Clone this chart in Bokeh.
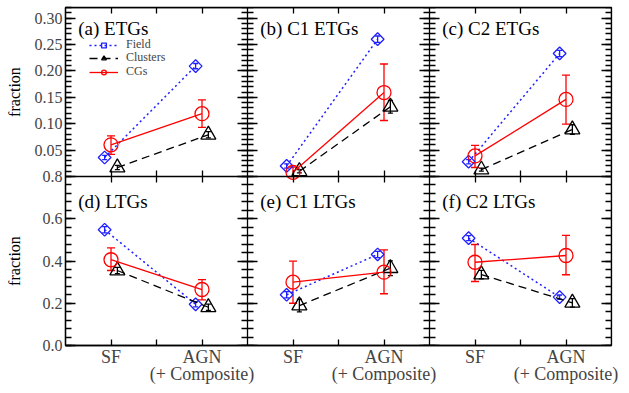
import numpy as np
from bokeh.plotting import figure
from bokeh.layouts import row
from bokeh.models import (ColumnDataSource, Whisker, TeeHead, FixedTicker, LinearAxis,
                          Range1d, Legend, LegendItem, Label, CustomJSTickFormatter)
from bokeh.core.properties import value
from bokeh.embed import file_html
from bokeh.resources import INLINE

FONT = "'Liberation Serif', 'Times New Roman', serif"

# ---------------- data ----------------
categories = ["SF", "AGN\n(+ Composite)"]
panel_titles = ["(a) ETGs", "(b) C1 ETGs", "(c) C2 ETGs",
                "(d) LTGs", "(e) C1 LTGs", "(f) C2 LTGs"]
panel_row = [0, 0, 0, 1, 1, 1]
panel_col = [0, 1, 2, 0, 1, 2]
series_names = ["Field", "Clusters", "CGs"]
y_label = "fraction"

# fractions per panel: [SF, AGN]
field_frac = [[0.036, 0.209], [0.020, 0.260], [0.028, 0.233],
              [0.548, 0.195], [0.240, 0.431], [0.508, 0.229]]
field_err = [[0.004, 0.005], [0.004, 0.006], [0.004, 0.006],
             [0.015, 0.012], [0.015, 0.015], [0.012, 0.010]]
clusters_frac = [[0.017, 0.079], [0.010, 0.132], [0.013, 0.089],
                 [0.355, 0.181], [0.189, 0.366], [0.336, 0.202]]
clusters_err = [[0.004, 0.006], [0.003, 0.012], [0.003, 0.009],
                [0.015, 0.015], [0.030, 0.035], [0.020, 0.020]]
cgs_frac = [[0.060, 0.119], [0.008, 0.159], [0.039, 0.146],
            [0.406, 0.265], [0.300, 0.347], [0.394, 0.426]]
cgs_low = [[0.042, 0.093], [0.000, 0.106], [0.017, 0.099],
           [0.355, 0.216], [0.200, 0.245], [0.303, 0.335]]
cgs_high = [[0.077, 0.145], [0.018, 0.213], [0.059, 0.192],
            [0.462, 0.312], [0.399, 0.453], [0.478, 0.521]]

top_max = 0.32
bottom_max = 0.8
top_major = [0.05, 0.10, 0.15, 0.20, 0.25, 0.30]
top_minor = [round(0.01 * i, 2) for i in range(1, 33)]
bottom_major = [0.0, 0.2, 0.4, 0.6, 0.8]
bottom_minor = [round(0.04 * i, 2) for i in range(0, 21)]

# ---------------- main figure ----------------
# bottom row uses the default y range (its data fill the lower half),
# top row uses the extra range "top" (its data fill the upper half)
shared_y = Range1d(0, 2 * bottom_max)
p = figure(width=598, height=393, x_range=Range1d(0.5, 6.5), y_range=shared_y,
           x_axis_location=None, y_axis_location=None, toolbar_location=None,
           output_backend="svg", min_border_left=31, min_border_right=18,
           min_border_top=7, min_border_bottom=48,
           outline_line_color="black", outline_line_width=1.3)
p.extra_y_ranges = {"top": Range1d(-top_max, top_max)}
p.xgrid.visible = False
p.ygrid.visible = False

row_range = ["top", "default"]
row_bounds = [(0, top_max), (0, bottom_max)]
row_major = [top_major, bottom_major]
row_minor = [top_minor, bottom_minor]
title_y = [0.280, 0.682]

scale_top = bottom_max / top_max      # top-range units -> default-range units
def top_to_default(v):
    return round(bottom_max + v * scale_top, 6)

hidden = CustomJSTickFormatter(code="return ''")

def style_axis(ax, tin, tout, min_in, min_out):
    ax.major_tick_in = tin
    ax.major_tick_out = tout
    ax.minor_tick_in = min_in
    ax.minor_tick_out = min_out
    ax.axis_line_color = "black"
    ax.axis_line_width = 1.3
    ax.major_tick_line_width = 1.3
    ax.minor_tick_line_width = 1.3
    ax.major_tick_line_color = "black"
    ax.minor_tick_line_color = "black"

# main left axis: shows both rows' scales
left_major = bottom_major + [top_to_default(v) for v in top_major]
left_minor = bottom_minor + [top_to_default(v) for v in top_minor]
left = LinearAxis(ticker=FixedTicker(ticks=left_major, minor_ticks=left_minor),
                  formatter=CustomJSTickFormatter(
                      args=dict(split=bottom_max, scale=scale_top),
                      code="""
                      if (tick > split + 1e-9) { return ((tick - split) / scale).toFixed(2); }
                      return tick.toFixed(1);
                      """))
style_axis(left, 10, 0, 6, 0)
left.major_label_text_font = FONT
left.major_label_text_font_size = "16px"
left.major_label_standoff = 3
p.add_layout(left, "left")

for r in range(2):
    rn = row_range[r]
    for loc in [2.5, 4.5]:
        sep = LinearAxis(y_range_name=rn, fixed_location=loc, bounds=row_bounds[r],
                         ticker=FixedTicker(ticks=row_major[r], minor_ticks=row_minor[r]),
                         formatter=hidden)
        style_axis(sep, 10, 10, 6, 6)
        p.add_layout(sep, "left")
    right = LinearAxis(y_range_name=rn, fixed_location=6.5, bounds=row_bounds[r],
                       ticker=FixedTicker(ticks=row_major[r], minor_ticks=row_minor[r]),
                       formatter=hidden)
    style_axis(right, 10, 0, 6, 0)
    p.add_layout(right, "right")

# x axes
xticks = [2 * c + j + 1 for c in range(3) for j in range(len(categories))]
xminor = [2 * c + 1.5 for c in range(3)]
overrides = {2 * c + j + 1: categories[j] for c in range(3) for j in range(len(categories))}

bottom = LinearAxis(ticker=FixedTicker(ticks=xticks, minor_ticks=xminor),
                    major_label_overrides=overrides)
style_axis(bottom, 6, 0, 6, 0)
bottom.major_label_text_font = FONT
bottom.major_label_text_font_size = "18px"
bottom.major_label_text_line_height = 0.85
bottom.major_label_standoff = 1
p.add_layout(bottom, "below")

mid = LinearAxis(fixed_location=bottom_max, ticker=FixedTicker(ticks=xticks, minor_ticks=xminor),
                 formatter=hidden)
style_axis(mid, 6, 6, 6, 6)
p.add_layout(mid, "below")

top = LinearAxis(fixed_location=2 * bottom_max, ticker=FixedTicker(ticks=xticks, minor_ticks=xminor),
                 formatter=hidden)
style_axis(top, 6, 0, 6, 0)
p.add_layout(top, "above")

# ---------------- series ----------------
series = [
    dict(name=series_names[0], frac=field_frac, low=None, high=None, err=field_err, color="#1f1fff",
         marker="square", size=9, angle=np.pi / 4, dash="2 3", width=1.5, dodge=-0.07, cap=5),
    dict(name=series_names[1], frac=clusters_frac, low=None, high=None, err=clusters_err, color="black",
         marker="triangle", size=15, angle=0.0, dash="8 5", width=1.3, dodge=0.07, cap=5),
    dict(name=series_names[2], frac=cgs_frac, low=cgs_low, high=cgs_high, err=None, color="#ff0000",
         marker="circle", size=14, angle=0.0, dash="solid", width=1.3, dodge=0.0, cap=8),
]

legend_items = []
for k in range(6):
    r, c = panel_row[k], panel_col[k]
    rn = row_range[r]
    for s in series:
        xs = [2 * c + j + 1 + s["dodge"] for j in range(len(categories))]
        ys = s["frac"][k]
        if s["err"] is not None:
            lo = [y - e for y, e in zip(ys, s["err"][k])]
            hi = [y + e for y, e in zip(ys, s["err"][k])]
        else:
            lo = s["low"][k]
            hi = s["high"][k]
        src = ColumnDataSource(dict(x=xs, y=ys, lower=lo, upper=hi))
        ln = p.line("x", "y", source=src, line_color=s["color"], line_width=s["width"],
                    line_dash=s["dash"], y_range_name=rn)
        sc = p.scatter("x", "y", source=src, marker=s["marker"], size=s["size"],
                       angle=s["angle"], fill_color=None, line_color=s["color"],
                       line_width=1.3, y_range_name=rn)
        wh = Whisker(source=src, base="x", lower="lower", upper="upper",
                     line_color=s["color"], line_width=1.3, y_range_name=rn,
                     upper_head=TeeHead(size=s["cap"], line_color=s["color"], line_width=1.3),
                     lower_head=TeeHead(size=s["cap"], line_color=s["color"], line_width=1.3))
        p.add_layout(wh)
        if k == 0:
            legend_items.append(LegendItem(label=s["name"], renderers=[ln, sc]))
    p.add_layout(Label(x=0.64 + 2 * c, y=title_y[r], y_range_name=rn, text=panel_titles[k],
                       text_font=FONT, text_font_size="19px", text_baseline="middle",
                       text_color="black"))

# one legend per entry so the rows sit closely like the original
legend_y = [293, 280, 266]
for item, ly in zip(legend_items, legend_y):
    lg = Legend(items=[item], location=(24, ly), background_fill_alpha=0,
                border_line_color=None, label_text_font=FONT, label_text_font_size="12px",
                glyph_width=29, glyph_height=12, label_height=12, spacing=0, padding=0,
                margin=0, label_standoff=8)
    p.add_layout(lg)

# ---------------- y-axis titles ("fraction" for each row) ----------------
q = figure(width=31, height=393, x_range=Range1d(0, 1), y_range=shared_y,
           x_axis_location=None, y_axis_location=None, toolbar_location=None,
           output_backend="svg", min_border_left=0, min_border_right=0,
           min_border_top=7, min_border_bottom=48, outline_line_color=None)
q.xgrid.visible = False
q.ygrid.visible = False
q.text(x=[0.45, 0.45], y=[top_to_default(top_max / 2), bottom_max / 2],
       text=[y_label, y_label], angle=np.pi / 2, text_align="center",
       text_baseline="middle", text_font=value(FONT), text_font_size=value("16px"),
       text_color="black")

layout = row(q, p)
open("out.html", "w").write(file_html(layout, INLINE))
